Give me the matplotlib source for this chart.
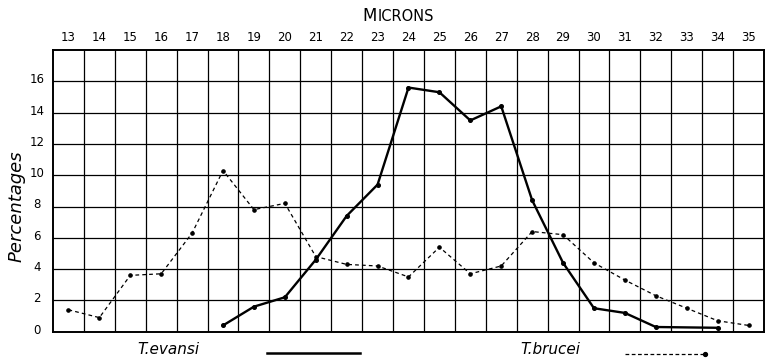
import numpy as np
import matplotlib
matplotlib.use("Agg")
import matplotlib.pyplot as plt
from matplotlib.lines import Line2D
from matplotlib.transforms import ScaledTranslation

# Length classes (microns) and percentage of trypanosomes in each class
microns = list(range(13, 36))
evansi_x = [18, 19, 20, 21, 22, 23, 24, 25, 26, 27, 28, 29, 30, 31, 32, 34]
evansi_pct = [0.4, 1.6, 2.2, 4.6, 7.4, 9.4, 15.6, 15.3, 13.5, 14.4,
              8.4, 4.4, 1.5, 1.2, 0.3, 0.25]
brucei_x = list(range(13, 36))
brucei_pct = [1.4, 0.9, 3.6, 3.7, 6.3, 10.3, 7.8, 8.2, 4.8, 4.3, 4.2, 3.5,
              5.4, 3.7, 4.2, 6.4, 6.2, 4.4, 3.3, 2.3, 1.5, 0.7, 0.4]
y_ticks = [0, 2, 4, 6, 8, 10, 12, 14, 16]

W, H = 766, 360
fig = plt.figure(figsize=(W / 100, H / 100), dpi=100)
fig.patch.set_facecolor("white")

left, right, top, bottom = 53, 764, 50, 331.7
ax = fig.add_axes([left / W, 1 - bottom / H, (right - left) / W, (bottom - top) / H])

ax.plot(evansi_x, evansi_pct, color="black", lw=1.7, marker="o", ms=2.6,
        zorder=4, solid_joinstyle="miter")
ax.plot(brucei_x, brucei_pct, color="black", lw=0.9, ls=(0, (3, 2.5)),
        marker="o", ms=2.3, zorder=3)

ax.set_xlim(12.5, 35.5)
ax.set_ylim(0, 18)

# Column labels on top, grid lines between columns
ax.xaxis.tick_top()
ax.set_xticks(microns)
ax.set_xticklabels([str(m) for m in microns])
ax.set_xticks(np.arange(13.5, 35.0, 1.0), minor=True)
ax.tick_params(axis="x", which="major", length=0, pad=4, labelsize=8.5)
ax.tick_params(which="minor", length=0)

ax.set_yticks(y_ticks)
ax.set_yticklabels([str(v) for v in y_ticks])
ax.tick_params(axis="y", length=0, pad=11.5, labelsize=8.5)
for lab in ax.get_yticklabels():
    lab.set_ha("center")
    lab.set_transform(lab.get_transform() + ScaledTranslation(0, 0.03, fig.dpi_scale_trans))

ax.grid(which="minor", axis="x", color="black", lw=0.9)
ax.grid(which="major", axis="y", color="black", lw=0.9)
ax.set_axisbelow(True)
for s in ax.spines.values():
    s.set_linewidth(1.4)

# Title in small capitals
ty = 1 - 21 / H
fig.text(377 / W, ty, "M", ha="right", va="baseline", fontsize=12)
fig.text(378 / W, ty, "ICRONS", ha="left", va="baseline", fontsize=10.5)

fig.text(17 / W, 1 - 206 / H, "Percentages", rotation=90, style="italic",
         fontsize=13, ha="center", va="center")

# Key below the chart
fig.text(168 / W, 1 - 350 / H, "T.evansi", style="italic", fontsize=11,
         ha="center", va="center")
fig.add_artist(Line2D([267 / W, 360 / W], [1 - 353 / H] * 2, color="black", lw=1.8))
fig.text(550 / W, 1 - 350 / H, "T.brucei", style="italic", fontsize=11,
         ha="center", va="center")
fig.add_artist(Line2D([625 / W, 703 / W], [1 - 354 / H] * 2, color="black",
                      lw=0.9, ls=(0, (3, 2))))
fig.add_artist(Line2D([705 / W], [1 - 354 / H], color="black", marker="o",
                      ms=2.8, ls="none"))

fig.savefig("out.png", dpi=100, facecolor="white")
